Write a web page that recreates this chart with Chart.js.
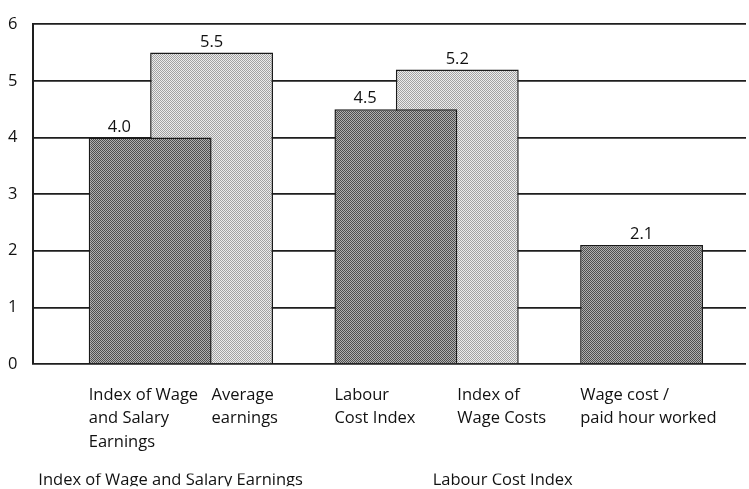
<!DOCTYPE html>
<html>
<head>
<meta charset="utf-8">
<script src="https://cdn.jsdelivr.net/npm/chart.js@4"></script>
<style>
  html, body { margin: 0; padding: 0; background: #fff; }
  #wrap { width: 749px; height: 489px; }
</style>
</head>
<body>
<div id="wrap"><canvas id="chart"></canvas></div>
<script>
// each cluster has a dark bar in front and maybe a light bar behind it
const darkLabels = [["Index of Wage", "and Salary", "Earnings"], ["Labour", "Cost Index"], ["Wage cost /", "paid hour worked"]];
const darkValues = [4.0, 4.5, 2.1];
const lightLabels = [["Average", "earnings"], ["Index of", "Wage Costs"], null];
const lightValues = [5.5, 5.2, null];
const groupTitles = ["Index of Wage and Salary Earnings", "Labour Cost Index"];
const yTicks = [0, 1, 2, 3, 4, 5, 6];

// x axis runs in half-bar units, a cluster takes 4 of them
const clusterStep = 4;
const xMin = -1.9;
const xMax = 9.7;
const groupTitleAt = [-1.82, 4.6];

const fontSize = 16.5;
Chart.defaults.font.family = "'Open Sans', sans-serif";
Chart.defaults.font.size = fontSize;
Chart.defaults.color = "#111";

let darkData = darkValues.map((v, i) => ({ x: i * clusterStep, y: v }));
let lightData = [];
lightValues.forEach((v, i) => {
  if (v !== null) lightData.push({ x: i * clusterStep + 1, y: v });
});

// tick labels: dark ones start at the bar's left edge, light ones at the bar centre
let xTicks = [];
darkLabels.forEach((l, i) => xTicks.push({ value: i * clusterStep - 1, label: l }));
lightLabels.forEach((l, i) => {
  if (l) xTicks.push({ value: i * clusterStep + 1, label: l });
});
xTicks.sort((a, b) => a.value - b.value);

function checker(c1, c2) {
  const p = document.createElement("canvas");
  p.width = 2;
  p.height = 2;
  const g = p.getContext("2d");
  g.fillStyle = c1;
  g.fillRect(0, 0, 2, 2);
  g.fillStyle = c2;
  g.fillRect(0, 0, 1, 1);
  g.fillRect(1, 1, 1, 1);
  return g.createPattern(p, "repeat");
}

const valueLabels = {
  id: "valueLabels",
  afterDatasetsDraw(chart) {
    const ctx = chart.ctx;
    ctx.save();
    ctx.font = fontSize + "px 'Open Sans'";
    ctx.fillStyle = "#111";
    ctx.textAlign = "center";
    ctx.textBaseline = "alphabetic";
    chart.data.datasets.forEach((ds, di) => {
      chart.getDatasetMeta(di).data.forEach((bar, i) => {
        let x = bar.x;
        // dark bar label sits over the part not covered by the light bar
        if (di === 0 && lightValues[i] !== null) x -= bar.width / 4;
        ctx.fillText(ds.data[i].y.toFixed(1), x, bar.y - 6);
      });
    });
    ctx.restore();
  },
};

new Chart(document.getElementById("chart"), {
  type: "bar",
  data: {
    datasets: [
      {
        data: darkData,
        backgroundColor: checker("#b0b0b0", "#4e4e4e"),
        borderColor: "#1a1a1a",
        borderWidth: 1.5,
        grouped: false,
        categoryPercentage: 1,
        barPercentage: 2,
      },
      {
        data: lightData,
        backgroundColor: checker("#ececec", "#a2a2a2"),
        borderColor: "#1a1a1a",
        borderWidth: 1.5,
        grouped: false,
        categoryPercentage: 1,
        barPercentage: 2,
      },
    ],
  },
  options: {
    responsive: true,
    maintainAspectRatio: false,
    animation: false,
    layout: { padding: { left: -8, right: 3, top: 0, bottom: 2.8 } },
    plugins: {
      legend: { display: false },
      tooltip: { enabled: false },
    },
    scales: {
      x: {
        type: "linear",
        position: "bottom",
        weight: 0,
        min: xMin,
        max: xMax,
        offset: false,
        grid: { display: false, drawTicks: false },
        border: { display: false },
        afterBuildTicks: (scale) => {
          scale.ticks = xTicks.map((t) => ({ value: t.value }));
        },
        ticks: {
          autoSkip: false,
          maxRotation: 0,
          align: "start",
          padding: 19.6,
          font: { size: fontSize, lineHeight: 1.418 },
          callback: (value) => {
            const t = xTicks.find((t) => t.value === value);
            return t ? t.label : "";
          },
        },
      },
      x2: {
        type: "linear",
        position: "bottom",
        weight: 1,
        min: xMin,
        max: xMax,
        offset: false,
        grid: { display: false, drawTicks: false },
        border: { display: false },
        afterBuildTicks: (scale) => {
          scale.ticks = groupTitleAt.map((v) => ({ value: v }));
        },
        ticks: {
          autoSkip: false,
          maxRotation: 0,
          align: "start",
          padding: -5.3,
          font: { size: fontSize, lineHeight: 1.418 },
          callback: (value) => groupTitles[groupTitleAt.indexOf(value)],
        },
      },
      y: {
        min: 0,
        max: 6,
        afterBuildTicks: (scale) => {
          scale.ticks = yTicks.map((v) => ({ value: v }));
        },
        grid: { color: "#1e1e1e", lineWidth: 1.7, drawTicks: false },
        border: { color: "#1e1e1e", width: 2 },
        ticks: {
          padding: 16,
          font: { size: fontSize, lineHeight: 1 },
        },
      },
    },
  },
  plugins: [valueLabels],
});
</script>
</body>
</html>
